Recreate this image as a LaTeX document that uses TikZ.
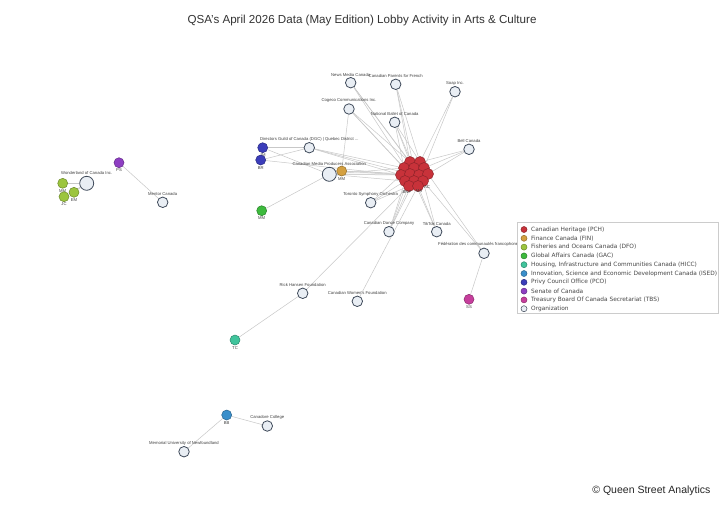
\documentclass[tikz,border=0pt]{standalone}
\usepackage{fontspec}
\setmainfont{Liberation Sans}
\newfontfamily\legfont{DejaVu Sans}
\usetikzlibrary{backgrounds}
\definecolor{orgfill}{HTML}{E9EEF4}
\definecolor{orgdraw}{HTML}{3F4A5A}
\definecolor{edgec}{HTML}{C8C8C8}
\definecolor{pch}{HTML}{C8323A}
\definecolor{fin}{HTML}{D4A040}
\definecolor{dfo}{HTML}{9CC53E}
\definecolor{gac}{HTML}{3DBA3D}
\definecolor{hicc}{HTML}{40C49C}
\definecolor{ised}{HTML}{3A8FCB}
\definecolor{pco}{HTML}{3B3DBA}
\definecolor{sen}{HTML}{8E3EC2}
\definecolor{tbs}{HTML}{C63E9C}
\tikzset{
  org/.style={circle, draw=orgdraw, fill=orgfill, line width=0.8pt, minimum size=10.5pt, inner sep=0pt},
  bigorg/.style={org, minimum size=14pt},
  gov/.style={circle, draw=#1!70!black, fill=#1, line width=0.5pt, minimum size=10pt, inner sep=0pt},
  red/.style={gov=pch, minimum size=11pt},
  lbl/.style={font=\fontsize{4.2}{5}\selectfont, text=black!75, inner sep=0.8pt},
  edge/.style={draw=edgec, line width=0.5pt},
  legtxt/.style={font=\legfont\fontsize{5.85}{7}\selectfont, text=black!72, anchor=west, inner sep=0pt},
  legdot/.style={circle, draw=#1!70!black, fill=#1, line width=0.5pt, minimum size=6pt, inner sep=0pt}
}
\begin{document}
\begin{tikzpicture}[x=1pt, y=-1pt]
\useasboundingbox (0,0) rectangle (720,504);
\node[font=\fontsize{11.6}{14}\selectfont, text=black!80] (title) at (362,20) {QSA's April 2026 Data (May Edition) Lobby Activity in Arts \& Culture};
\node[font=\fontsize{10.5}{12}\selectfont, text=black!85, anchor=east] (copy) at (714,491) {\textcopyright\ Queen Street Analytics};

% organizations
\node[org, label={[lbl]above:News Media Canada}] (news) at (350.7,82.7) {};
\node[org, label={[lbl]above:Canadian Parents for French}] (parents) at (395.7,84.3) {};
\node[org, label={[lbl]above:Soap Inc.}] (soap) at (455,91.7) {};
\node[org, label={[lbl]above:Cogeco Communications Inc.}] (cogeco) at (349,109) {};
\node[org, label={[lbl]above:National Ballet of Canada}] (ballet) at (394.7,122.3) {};
\node[org, label={[lbl]above:Bell Canada}] (bell) at (469,149.3) {};
\node[org, label={[lbl]above:Directors Guild of Canada (DGC) | Quebec District ...}] (dgc) at (309.3,147.7) {};
\node[bigorg, label={[lbl]above:Canadian Media Producers Association}] (cmpa) at (329.3,174.3) {};
\node[org, label={[lbl]above:Toronto Symphony Orchestra}] (tso) at (370.7,202.7) {};
\node[org, label={[lbl]above:Canadian Dance Company}] (dance) at (389,231.7) {};
\node[org, label={[lbl]above:TikTok Canada}] (tiktok) at (436.7,231.7) {};
\node[org, label={[lbl]above:Fédération des communautés francophones et ...}] (fed) at (484,253.3) {};
\node[org, label={[lbl]above:Rick Hansen Foundation}] (rick) at (302.7,293.3) {};
\node[org, label={[lbl]above:Canadian Women's Foundation}] (women) at (357.3,301.3) {};
\node[bigorg, label={[lbl]above:Wonderland of Canada Inc.}] (wonder) at (86.7,183.3) {};
\node[org, label={[lbl]above:Mentor Canada}] (mentor) at (162.7,202.3) {};
\node[org, label={[lbl]above:Canadore College}] (canadore) at (267.3,426) {};
\node[org, label={[lbl]above:Memorial University of Newfoundland}] (memorial) at (184,451.7) {};

% government nodes
\node[gov=pco, label={[lbl]below:JM}] (pcoa) at (262.7,147.7) {};
\node[gov=pco, label={[lbl]below:BR}] (pcob) at (260.7,160) {};
\node[gov=fin, label={[lbl]below:MM}] (fin) at (341.7,171) {};
\node[gov=gac, label={[lbl]below:MM}] (gac) at (261.7,210.7) {};
\node[gov=sen, label={[lbl]below:PS}] (sen) at (119,162.7) {};
\node[gov=dfo, label={[lbl]below:MM}] (dfoa) at (62.7,183.3) {};
\node[gov=dfo, label={[lbl]below:EM}] (dfob) at (74,192.3) {};
\node[gov=dfo, label={[lbl]below:JC}] (dfoc) at (64,196.7) {};
\node[gov=hicc, label={[lbl]below:TC}] (hicc) at (235,340) {};
\node[gov=ised, label={[lbl]below:BB}] (ised) at (226.7,415) {};
\node[gov=tbs, label={[lbl]below:SS}] (tbs) at (469,299.3) {};

% PCH cluster
\foreach \n/\x/\y in {1/410/162, 2/420/162, 3/404/168, 4/414/168, 5/424/168, 6/401/175, 7/410/174, 8/419/175, 9/428/174, 10/405/181, 11/414/181, 12/423/181, 13/409/186, 14/418/186}
  \node[red] (r\n) at (\x,\y) {};
\node[lbl] (rl1) at (407,192.5) {BNP};
\node[lbl] (rl2) at (419,191.5) {MA};
\node[lbl] (rl3) at (427,187.5) {AC};

\begin{pgfonlayer}{background}
\fill[white] (0,0) rectangle (720,504);
\foreach \o/\rs in {news/{1,4,7}, parents/{1,2,4}, soap/{2,5}, cogeco/{1,3,7}, ballet/{1,2,3,4}, bell/{2,5,9}, dgc/{3,6,7}, cmpa/{3,6,7,10}, tso/{6,10,13}, dance/{7,10,11,13}, tiktok/{11,12,14}, fed/{9,12}, rick/{13}, women/{14}, fin/{6,7}} {
  \foreach \r in \rs { \draw[edge] (\o) -- (r\r); }
}
\draw[edge] (pcoa) -- (dgc);
\draw[edge] (pcoa) -- (cmpa);
\draw[edge] (pcob) -- (dgc);
\draw[edge] (pcob) -- (r6);
\draw[edge] (gac) -- (cmpa);
\draw[edge] (cogeco) -- (fin);
\draw[edge] (sen) -- (mentor);
\draw[edge] (dfoa) -- (wonder);
\draw[edge] (dfob) -- (wonder);
\draw[edge] (dfoc) -- (wonder);
\draw[edge] (hicc) -- (rick);
\draw[edge] (ised) -- (canadore);
\draw[edge] (ised) -- (memorial);
\draw[edge] (tbs) -- (fed);
\end{pgfonlayer}

% legend
\node[draw=black!20, fill=white, line width=0.5pt, minimum width=201pt, minimum height=91pt, anchor=north west, inner sep=0pt] (leg) at (517,222) {};
\foreach \i/\c/\t in {0/pch/Canadian Heritage (PCH), 1/fin/Finance Canada (FIN), 2/dfo/Fisheries and Oceans Canada (DFO), 3/gac/Global Affairs Canada (GAC), 4/hicc/{Housing, Infrastructure and Communities Canada (HICC)}, 5/ised/{Innovation, Science and Economic Development Canada (ISED)}, 6/pco/Privy Council Office (PCO), 7/sen/Senate of Canada, 8/tbs/Treasury Board Of Canada Secretariat (TBS)} {
  \node[legdot=\c] (ld\i) at (524,229.5+8.8*\i) {};
  \node[legtxt] (lt\i) at (531,229.5+8.8*\i) {\t};
}
\node[circle, draw=orgdraw, fill=orgfill, line width=0.5pt, minimum size=6pt, inner sep=0pt] (ld9) at (524,229.5+8.8*9) {};
\node[legtxt] (lt9) at (531,229.5+8.8*9) {Organization};
\end{tikzpicture}
\end{document}
